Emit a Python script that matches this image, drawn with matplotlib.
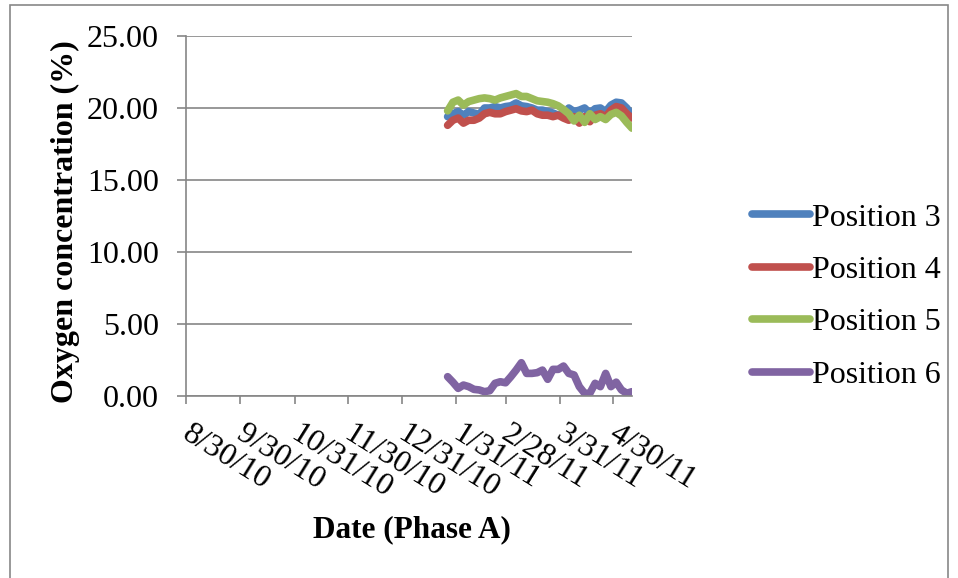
import datetime as dt
import pandas as pd
import matplotlib
matplotlib.use('Agg')
import matplotlib.pyplot as plt
import matplotlib.dates as mdates
from matplotlib.patches import Rectangle
from matplotlib.transforms import ScaledTranslation

plt.rcParams['font.family'] = ['Liberation Serif', 'DejaVu Serif']

# sampling times of the oxygen probes (every 3 days)
sample_dates = pd.date_range('2011-01-26', periods=36, freq='3D')

position_3 = [19.4, 19.6, 19.75, 19.5, 19.75, 19.65, 19.55, 20.0, 20.0, 20.1,
              20.0, 20.1, 20.15, 20.35, 20.15, 20.1, 20.0, 19.85, 19.85, 19.75,
              19.65, 19.5, 19.6, 20.0, 19.75, 19.85, 20.0, 19.65, 19.95, 20.0,
              19.75, 20.2, 20.4, 20.35, 20.0, 19.5]
position_4 = [18.8, 19.15, 19.3, 18.95, 19.15, 19.15, 19.3, 19.6, 19.7, 19.6,
              19.6, 19.75, 19.85, 19.95, 19.8, 19.75, 19.85, 19.6, 19.5, 19.5,
              19.4, 19.5, 19.3, 19.15, 19.4, 18.95, 19.4, 19.05, 19.5, 19.6,
              19.4, 19.85, 20.1, 20.0, 19.6, 19.3]
position_5 = [19.8, 20.4, 20.55, 20.2, 20.45, 20.55, 20.65, 20.7, 20.65, 20.55,
              20.7, 20.8, 20.9, 21.0, 20.8, 20.8, 20.65, 20.5, 20.45, 20.4,
              20.3, 20.15, 19.9, 19.6, 19.1, 19.5, 19.0, 19.6, 19.2, 19.4,
              19.2, 19.55, 19.7, 19.45, 19.0, 18.6]
position_6 = [1.34, 0.96, 0.53, 0.76, 0.65, 0.46, 0.42, 0.30, 0.37, 0.88,
              0.99, 0.92, 1.34, 1.80, 2.31, 1.57, 1.57, 1.62, 1.80, 1.16,
              1.85, 1.85, 2.08, 1.57, 1.46, 0.65, 0.19, 0.19, 0.88, 0.65,
              1.57, 0.65, 0.96, 0.42, 0.19, 0.30]

tick_dates = [dt.date(2010, 8, 30), dt.date(2010, 9, 30), dt.date(2010, 10, 31),
              dt.date(2010, 11, 30), dt.date(2010, 12, 31), dt.date(2011, 1, 31),
              dt.date(2011, 2, 28), dt.date(2011, 3, 31), dt.date(2011, 4, 30)]
tick_labels = ['8/30/10', '9/30/10', '10/31/10', '11/30/10', '12/31/10',
               '1/31/11', '2/28/11', '3/31/11', '4/30/11']
y_ticks = [0, 5, 10, 15, 20, 25]

series = [('Position 3', position_3, '#4F81BD'),
          ('Position 4', position_4, '#C0504D'),
          ('Position 5', position_5, '#9BBB59'),
          ('Position 6', position_6, '#8064A2')]

fig = plt.figure(figsize=(9.58, 5.78), dpi=100)
ax = fig.add_axes([186 / 958, 1 - 396 / 578, 446 / 958, 360 / 578])

for name, vals, col in series:
    ax.plot(sample_dates, vals, color=col, lw=5.5, solid_capstyle='round',
            solid_joinstyle='round', label=name)

ax.set_xlim(dt.date(2010, 8, 30), dt.date(2011, 5, 11))
ax.set_ylim(0, 25)
ax.set_yticks(y_ticks)
ax.set_yticklabels(['%.2f' % v for v in y_ticks])
ax.set_xticks([mdates.date2num(d) for d in tick_dates])
ax.set_xticklabels(tick_labels)

grey = '#868686'
ax.grid(axis='y', color=grey, lw=1.2)
ax.set_axisbelow(True)
for s in ['top', 'right']:
    ax.spines[s].set_visible(False)
for s in ['left', 'bottom']:
    ax.spines[s].set_color(grey)
    ax.spines[s].set_linewidth(1.2)

ax.tick_params(axis='y', direction='out', length=6.5, width=1.2, color=grey,
               pad=13, labelsize=23)
ax.tick_params(axis='x', direction='out', length=6, width=1.2, color=grey,
               pad=11, labelsize=23)
nudge = ScaledTranslation(6 / 100, 0, fig.dpi_scale_trans)
for lbl in ax.get_xticklabels():
    lbl.set_rotation(-32)
    lbl.set_ha('left')
    lbl.set_va('top')
    lbl.set_rotation_mode('anchor')
    lbl.set_transform(lbl.get_transform() + nudge)

ax.set_ylabel('Oxygen concentration (%)', fontsize=23, fontweight='bold')
ax.yaxis.set_label_coords(-0.238, 0.485)
ax.set_xlabel('Date (Phase A)', fontsize=22.5, fontweight='bold')
ax.xaxis.set_label_coords((412 - 186) / 446, -(530 - 396) / 360)
ax.xaxis.label.set_verticalalignment('center')

fig.legend(loc='center left', bbox_to_anchor=(752 / 958, 1 - 296.5 / 578),
           frameon=False, fontsize=23, handlelength=1.8, handletextpad=0.08,
           labelspacing=0.72, borderpad=0, borderaxespad=0)

# chart area border
fig.patches.append(Rectangle((10 / 958, -0.02), 938 / 958, 1 - 5 / 578 + 0.02,
                             transform=fig.transFigure, fill=False,
                             edgecolor='#888888', lw=1.2))

fig.savefig('out.png', dpi=100)
